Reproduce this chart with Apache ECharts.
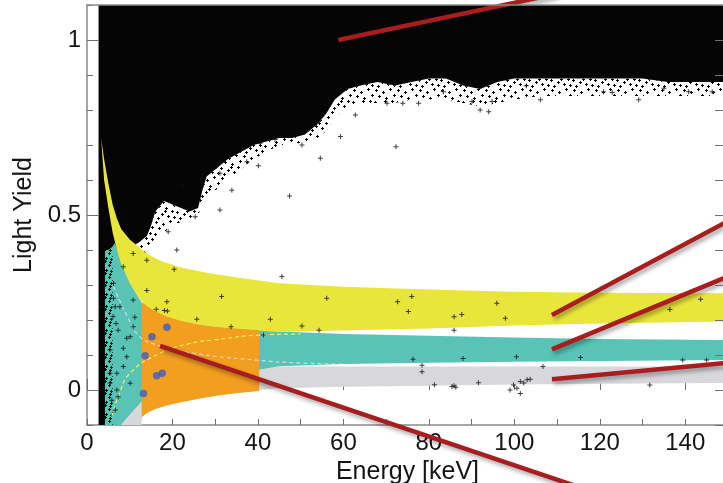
<!DOCTYPE html>
<html>
<head>
<meta charset="utf-8">
<script src="https://cdn.jsdelivr.net/npm/echarts@6/dist/echarts.min.js"></script>
<style>
  html, body { margin: 0; padding: 0; background: #fff; }
  #chart { width: 723px; height: 483px; }
</style>
</head>
<body>
<div id="chart"></div>
<script>
// tick labels
const xTicks = [0, 20, 40, 60, 80, 100, 120, 140];
const yTicks = [0, 0.5, 1];

// dense electron-recoil cloud: solid lower edge and the edge of its speckled fringe (the top is the frame)
const cloudX =      [2.7, 4.8, 5.2, 6, 8, 10, 12, 14, 15, 16, 18, 20, 22, 24, 26, 27, 28, 30, 33, 36, 39, 42, 45, 48, 51, 54, 56, 58, 61, 64, 68, 72, 76, 80, 84, 88, 92, 96, 100, 106, 112, 118, 124, 130, 136, 142, 150];
const cloudLow =    [-0.1, -0.1, 0.2, 0.36, 0.40, 0.41, 0.42, 0.44, 0.47, 0.51, 0.54, 0.53, 0.52, 0.51, 0.52, 0.57, 0.61, 0.63, 0.66, 0.68, 0.70, 0.71, 0.72, 0.72, 0.73, 0.76, 0.79, 0.83, 0.86, 0.87, 0.88, 0.87, 0.88, 0.89, 0.89, 0.87, 0.86, 0.88, 0.89, 0.89, 0.89, 0.89, 0.89, 0.89, 0.88, 0.88, 0.88];
const cloudFringe = [-0.1, -0.1, 0.2, 0.36, 0.38, 0.38, 0.38, 0.39, 0.41, 0.43, 0.45, 0.47, 0.48, 0.48, 0.50, 0.53, 0.55, 0.57, 0.60, 0.63, 0.66, 0.68, 0.70, 0.70, 0.71, 0.72, 0.74, 0.78, 0.81, 0.82, 0.82, 0.82, 0.83, 0.83, 0.83, 0.82, 0.81, 0.82, 0.83, 0.84, 0.84, 0.84, 0.84, 0.84, 0.84, 0.84, 0.84];
const cloudTop = 1.1;

// low-energy noise column fringe
const columnX =  [4.2, 5.0, 6.0];
const columnHi = [0.42, 0.41, 0.40];
const columnLo = [-0.1, -0.1, -0.1];

// oxygen band (yellow)
const yellowX =  [3.3, 4, 5, 6, 7, 8, 10, 12, 14, 17, 22, 28, 36, 45, 60, 80, 100, 120, 150];
const yellowHi = [0.72, 0.66, 0.59, 0.53, 0.49, 0.46, 0.43, 0.41, 0.39, 0.37, 0.35, 0.335, 0.32, 0.305, 0.295, 0.287, 0.281, 0.278, 0.276];
const yellowLo = [0.72, 0.60, 0.52, 0.45, 0.40, 0.36, 0.305, 0.265, 0.238, 0.215, 0.195, 0.182, 0.173, 0.166, 0.17, 0.176, 0.184, 0.19, 0.196];

// calcium band (turquoise)
const tealX =  [4.2, 5, 6, 6.5, 7.9, 10.8, 12.8, 20, 30, 40, 45, 60, 80, 100, 120, 150];
const tealHi = [0.40, 0.40, 0.41, 0.42, 0.37, 0.29, 0.25, 0.21, 0.185, 0.172, 0.167, 0.16, 0.155, 0.15, 0.146, 0.143];
const tealLo = [-0.1, -0.1, -0.1, -0.1, -0.1, -0.06, -0.033, 0.0, 0.03, 0.057, 0.068, 0.074, 0.078, 0.081, 0.083, 0.086];

// tungsten band (grey)
const greyX =  [7.9, 10, 12.8, 12.9, 20, 30, 40, 45, 60, 80, 100, 120, 150];
const greyHi = [-0.1, -0.07, -0.033, -0.03, 0.0, 0.03, 0.057, 0.067, 0.067, 0.067, 0.067, 0.067, 0.067];
const greyLo = [-0.1, -0.1, -0.1, -0.065, -0.035, -0.013, 0.0, 0.005, 0.009, 0.012, 0.016, 0.018, 0.02];

// acceptance region (orange)
const orangeX =  [12.8, 14, 16, 18.7, 22, 26.5, 30, 34.3, 40.3];
const orangeHi = [0.25, 0.24, 0.224, 0.21, 0.197, 0.186, 0.18, 0.176, 0.171];
const orangeLo = [-0.078, -0.066, -0.054, -0.044, -0.035, -0.024, -0.017, -0.01, -0.003];

// band centre lines
const yDashX = [5.8, 7.3, 10.1, 17.1, 24.1, 29.6, 40.5, 50];
const yDashY = [-0.076, -0.019, 0.048, 0.105, 0.133, 0.143, 0.157, 0.16];
const wDashX = [6.2, 9.3, 12, 16, 25, 40, 50, 60];
const wDashY = [0.295, 0.214, 0.157, 0.13, 0.105, 0.085, 0.077, 0.074];

// single events outside the dense cloud
const eventsX = [70.2, 73.9, 77.6, 72.3, 54.6, 47.4, 59.3, 62.8, 44.0, 50.3, 92.0, 94.0, 83.4, 90.1, 94.8, 106.1, 129.1, 140.8, 146.3, 40.1, 120.9, 135, 102.8, 122.9,
  25.3, 31.1, 33.9, 40.5, 37.4, 19.0, 21.0, 20.4, 22.6, 31.1,
  45.6, 14.0, 31.5, 18.7, 25.7, 33.7, 42.9, 41.3, 18.1, 11.2, 9.3, 8.5, 7.3, 6.6, 10.8, 5.4, 7.0, 6.6,
  56.1, 72.7, 76.0, 75.2, 50.3, 54.3, 85.9, 87.7, 95.9, 97.9, 85.9, 136.4, 143.6, 76.3, 78.4, 78.4, 88.0, 100.5, 115.5, 139.4, 145, 106.7,
  81.3, 85.4, 85.9, 86.3, 91.6, 99.8, 100.6, 101.4, 102.2, 103.0, 101.4, 99.0, 103.7, 131.7,
  16.2, 10.1, 6.8, 7.7, 6.2, 10.1, 7.0, 8.5, 7.3, 9.3, 10.8, 6.2, 8.5, 10.8, 14.0, 18.8, 5.4, 5.4, 5.8, 6.1];
const eventsY = [0.819, 0.819, 0.819, 0.695, 0.662, 0.554, 0.724, 0.786, 0.716, 0.70, 0.80, 0.795, 0.852, 0.824, 0.824, 0.829, 0.829, 0.852, 0.852, 0.641, 0.852, 0.862, 0.869, 0.85,
  0.495, 0.514, 0.571, 0.705, 0.652, 0.452, 0.40, 0.345, 0.581, 0.619,
  0.324, 0.284, 0.267, 0.252, 0.202, 0.181, 0.202, 0.157, 0.227, 0.208, 0.148, 0.119, 0.171, 0.238, 0.257, 0.048, 0.0, -0.057,
  0.262, 0.252, 0.267, 0.224, 0.183, 0.171, 0.209, 0.216, 0.248, 0.205, 0.171, 0.23, 0.259, 0.088, 0.071, 0.052, 0.09, 0.095, 0.093, 0.086, 0.086, 0.067,
  0.015, 0.01, 0.012, 0.008, 0.021, 0.014, 0.005, 0.024, 0.02, 0.029, -0.01, 0.0, 0.031, 0.014,
  0.231, 0.152, 0.19, 0.238, 0.262, 0.019, 0.048, 0.067, -0.019, 0.095, 0.181, 0.305, 0.352, 0.39, 0.371, 0.226, 0.114, 0.02, -0.029, 0.21];

// candidate events in the acceptance region
const blueX = [18.7, 15.2, 13.6, 17.6, 16.3, 13.2];
const blueY = [0.179, 0.152, 0.098, 0.048, 0.041, -0.01];

// annotation pointers
const pointerTop    = [[58.8, 1.0], [110, 1.132]];
const pointerO      = [[108.8, 0.214], [160, 0.548]];
const pointerCa     = [[108.8, 0.116], [160, 0.375]];
const pointerW      = [[108.8, 0.031], [160, 0.089]];
const pointerAccept = [[17.1, 0.126], [125, -0.318]];

const chart = echarts.init(document.getElementById('chart'));

// tiles of "+" marks used to texture the sparse parts of the cloud
const makeSpeckle = (size, marks) => {
  const c = document.createElement('canvas');
  c.width = size;
  c.height = size;
  const g = c.getContext('2d');
  g.fillStyle = '#000';
  marks.forEach(([a, b]) => {
    g.fillRect(a, b + 1, 3, 1);
    g.fillRect(a + 1, b, 1, 3);
  });
  return { image: c, repeat: 'repeat' };
};
const fringeFill = makeSpeckle(22, [[1, 1], [8, 3], [15, 0], [19, 6], [4, 7], [11, 9], [17, 12], [0, 13], [7, 15], [13, 17], [19, 18], [3, 19], [10, 12]]);
const columnFill = makeSpeckle(12, [[0, 0], [6, 2], [2, 6], [8, 8], [4, 3], [9, 5], [1, 9]]);

const area = (name, xs, hi, lo, fill, z) => ({
  type: 'custom', name, z, clip: true, silent: true,
  data: [[xs[0], hi[0]]],
  renderItem: (params, api) => {
    const pts = [];
    xs.forEach((x, i) => pts.push(api.coord([x, hi[i]])));
    for (let i = xs.length - 1; i >= 0; i--) pts.push(api.coord([xs[i], lo[i]]));
    return { type: 'polygon', shape: { points: pts }, style: { fill } };
  }
});

const pointer = (data) => ({
  type: 'line', data, z: 20, clip: false, silent: true, showSymbol: false,
  lineStyle: { color: '#a81d1d', width: 4.5, shadowColor: 'rgba(0,0,0,0.35)', shadowBlur: 4, shadowOffsetX: 2, shadowOffsetY: 3 }
});

const dashed = (xs, ys, color) => ({
  type: 'line', z: 8, silent: true, showSymbol: false, smooth: true,
  data: xs.map((x, i) => [x, ys[i]]),
  lineStyle: { color, width: 1.2, type: [4, 3] }
});

const font = "'Liberation Sans', Arial, sans-serif";
const frame = { show: true, onZero: false, lineStyle: { color: '#8a8a8a', width: 1.5 } };

const option = {
  animation: false,
  grid: { left: 87, right: -5, top: 5, bottom: 58, outerBoundsMode: 'none' },
  xAxis: [
    {
      type: 'value', min: 0, max: 150, interval: 10, position: 'bottom',
      axisLine: frame,
      axisTick: { inside: true, length: 6, lineStyle: { color: '#707070' } },
      axisLabel: { customValues: xTicks, fontSize: 24, color: '#151515', fontFamily: font, margin: 6 },
      splitLine: { show: false },
      name: 'Energy [keV]', nameLocation: 'middle', nameGap: 25,
      nameTextStyle: { fontSize: 25, color: '#151515', fontFamily: font }
    },
    {
      type: 'value', min: 0, max: 150, position: 'bottom',
      axisLine: { show: false },
      axisTick: { inside: true, length: 11, customValues: xTicks, lineStyle: { color: '#707070' } },
      axisLabel: { show: false }, splitLine: { show: false }
    },
    {
      type: 'value', min: 0, max: 150, position: 'top', z: 30,
      axisLine: frame, axisTick: { show: false }, axisLabel: { show: false }, splitLine: { show: false }
    }
  ],
  yAxis: [
    {
      type: 'value', min: -0.1, max: 1.1, interval: 0.1, position: 'left',
      axisLine: frame,
      axisTick: { inside: true, length: 6, lineStyle: { color: '#707070' } },
      axisLabel: { customValues: yTicks, fontSize: 24, color: '#151515', fontFamily: font, margin: 6 },
      splitLine: { show: false },
      name: 'Light Yield', nameLocation: 'middle', nameGap: 47,
      nameTextStyle: { fontSize: 25, color: '#151515', fontFamily: font }
    },
    {
      type: 'value', min: -0.1, max: 1.1, position: 'left',
      axisLine: { show: false },
      axisTick: { inside: true, length: 11, customValues: yTicks, lineStyle: { color: '#707070' } },
      axisLabel: { show: false }, splitLine: { show: false }
    },
    {
      type: 'value', min: -0.1, max: 1.1, interval: 0.1, position: 'right', z: 30,
      axisLine: frame,
      axisTick: { inside: true, length: 13, lineStyle: { color: '#707070' } },
      axisLabel: { show: false }, splitLine: { show: false }
    }
  ],
  series: [
    area('cloud', cloudX, cloudX.map(() => cloudTop), cloudLow, '#050505', 1),
    area('fringe', cloudX, cloudLow, cloudFringe, fringeFill, 1),
    area('W', greyX, greyHi, greyLo, '#d7d7dc', 2),
    area('Ca', tealX, tealHi, tealLo, '#58c3b6', 3),
    area('O', yellowX, yellowHi, yellowLo, '#e9e63b', 4),
    area('column', columnX, columnHi, columnLo, columnFill, 6),
    area('acceptance', orangeX, orangeHi, orangeLo, '#f29e1f', 5),
    dashed(wDashX, wDashY, 'rgba(235,235,235,0.75)'),
    dashed(yDashX, yDashY, '#f7f25a'),
    {
      type: 'scatter', z: 10, silent: true,
      symbol: 'path://M0,2H5V3H0Z M2,0H3V5H2Z', symbolSize: 5,
      data: eventsX.map((x, i) => [x, eventsY[i]]),
      itemStyle: { color: '#111' }
    },
    {
      type: 'scatter', z: 11, silent: true, symbolSize: 7.5,
      data: blueX.map((x, i) => [x, blueY[i]]),
      itemStyle: { color: '#3c5cc2' }
    },
    pointer(pointerTop),
    pointer(pointerO),
    pointer(pointerCa),
    pointer(pointerW),
    pointer(pointerAccept)
  ]
};

chart.setOption(option);
</script>
</body>
</html>
